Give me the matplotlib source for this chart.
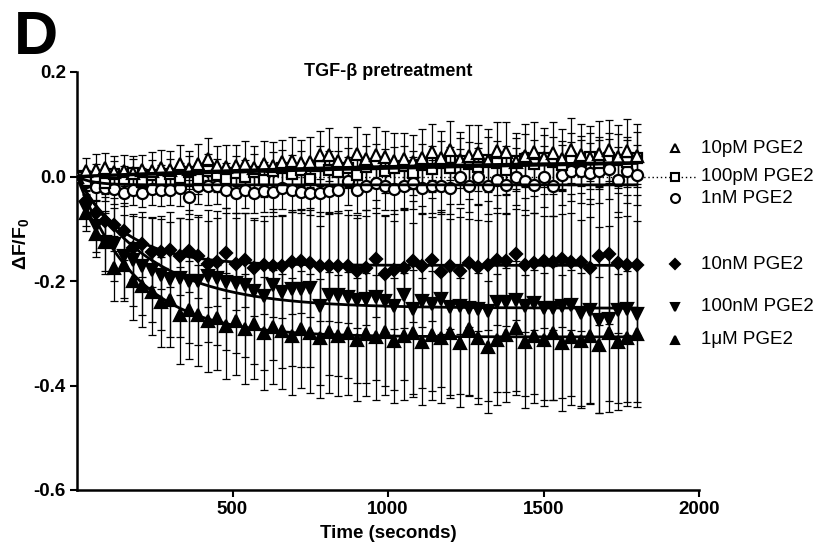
import numpy as np
import matplotlib
matplotlib.use("Agg")
import matplotlib.pyplot as plt

plt.rcParams["font.family"] = ["Liberation Sans", "DejaVu Sans"]
plt.rcParams["mathtext.fontset"] = "custom"
plt.rcParams["mathtext.rm"] = "Liberation Sans"
plt.rcParams["mathtext.bf"] = "Liberation Sans:bold"

# ── data ──────────────────────────────────────────────────────────────────────
time_s = np.arange(0, 1801, 30)

pge_10pM = [0.000, 0.010, 0.013, 0.017, 0.008, 0.011, 0.006, 0.012, 0.010, 0.017,
            0.012, 0.023, 0.015, 0.023, 0.033, 0.021, 0.018, 0.021, 0.023, 0.016,
            0.023, 0.020, 0.027, 0.030, 0.025, 0.028, 0.042, 0.042, 0.030, 0.027,
            0.044, 0.034, 0.042, 0.038, 0.030, 0.033, 0.028, 0.035, 0.047, 0.036,
            0.050, 0.032, 0.040, 0.045, 0.030, 0.048, 0.047, 0.028, 0.040, 0.046,
            0.036, 0.045, 0.033, 0.050, 0.042, 0.036, 0.044, 0.050, 0.038, 0.048,
            0.040]
pge_100pM = [0.000, -0.008, 0.000, -0.012, 0.004, -0.004, 0.006, -0.010, 0.002, -0.006,
             0.004, -0.002, 0.008, -0.004, 0.010, 0.002, -0.004, 0.006, 0.000, 0.008,
             -0.006, 0.010, 0.016, 0.004, 0.012, -0.004, 0.020, 0.012, 0.008, 0.016,
             0.002, 0.018, 0.024, 0.010, 0.016, 0.020, 0.006, 0.022, 0.014, 0.026,
             0.016, 0.030, 0.024, 0.018, 0.032, 0.026, 0.012, 0.030, 0.034, 0.024,
             0.036, 0.028, 0.022, 0.034, 0.030, 0.038, 0.026, 0.036, 0.032, 0.028,
             0.036]
pge_1nM = [0.000, -0.011, -0.020, -0.022, -0.024, -0.031, -0.025, -0.031, -0.024, -0.025,
           -0.025, -0.022, -0.039, -0.019, -0.019, -0.019, -0.025, -0.031, -0.025, -0.031,
           -0.028, -0.030, -0.022, -0.026, -0.030, -0.031, -0.031, -0.028, -0.026, -0.009,
           -0.025, -0.019, -0.013, -0.019, -0.024, -0.019, -0.013, -0.022, -0.019, -0.019,
           -0.022, 0.000, -0.018, 0.000, -0.019, -0.006, -0.016, 0.000, -0.009, -0.016,
           0.000, -0.019, 0.003, 0.010, 0.010, 0.006, 0.010, 0.014, -0.006, 0.010,
           0.003]
pge_10nM = [0.000, -0.046, -0.070, -0.085, -0.092, -0.105, -0.136, -0.130, -0.145, -0.145,
            -0.140, -0.153, -0.143, -0.153, -0.168, -0.163, -0.146, -0.168, -0.159, -0.175,
            -0.170, -0.172, -0.172, -0.164, -0.162, -0.166, -0.172, -0.172, -0.172, -0.172,
            -0.181, -0.175, -0.157, -0.186, -0.178, -0.175, -0.162, -0.172, -0.159, -0.183,
            -0.172, -0.181, -0.166, -0.174, -0.170, -0.160, -0.161, -0.149, -0.170, -0.166,
            -0.162, -0.164, -0.158, -0.164, -0.164, -0.176, -0.152, -0.149, -0.166, -0.170,
            -0.170]
pge_100nM = [0.000, -0.060, -0.095, -0.126, -0.130, -0.153, -0.160, -0.172, -0.178, -0.188,
             -0.197, -0.194, -0.200, -0.200, -0.191, -0.194, -0.201, -0.203, -0.207, -0.219,
             -0.228, -0.207, -0.221, -0.215, -0.215, -0.213, -0.247, -0.226, -0.226, -0.230,
             -0.237, -0.235, -0.230, -0.238, -0.247, -0.226, -0.253, -0.238, -0.244, -0.235,
             -0.250, -0.247, -0.251, -0.253, -0.257, -0.241, -0.241, -0.236, -0.247, -0.243,
             -0.251, -0.251, -0.247, -0.245, -0.261, -0.256, -0.274, -0.273, -0.256, -0.253,
             -0.264]
pge_1uM = [0.000, -0.070, -0.110, -0.125, -0.176, -0.170, -0.200, -0.210, -0.222, -0.240,
           -0.236, -0.266, -0.256, -0.266, -0.276, -0.270, -0.286, -0.276, -0.292, -0.282,
           -0.300, -0.288, -0.296, -0.306, -0.292, -0.300, -0.310, -0.298, -0.305, -0.300,
           -0.312, -0.302, -0.308, -0.298, -0.314, -0.306, -0.300, -0.316, -0.304, -0.310,
           -0.300, -0.318, -0.292, -0.310, -0.326, -0.312, -0.304, -0.290, -0.316, -0.306,
           -0.312, -0.300, -0.318, -0.308, -0.314, -0.306, -0.322, -0.300, -0.316, -0.310,
           -0.302]

# SEM bars
err_10pM = [0.000, 0.025, 0.030, 0.028, 0.032, 0.030, 0.034, 0.030, 0.036, 0.034,
            0.036, 0.038, 0.034, 0.040, 0.040, 0.038, 0.042, 0.040, 0.044, 0.042,
            0.044, 0.046, 0.042, 0.046, 0.044, 0.048, 0.046, 0.050, 0.046, 0.048,
            0.050, 0.048, 0.052, 0.050, 0.054, 0.050, 0.052, 0.056, 0.054, 0.052,
            0.056, 0.054, 0.058, 0.054, 0.060, 0.056, 0.058, 0.056, 0.060, 0.058,
            0.056, 0.060, 0.058, 0.062, 0.058, 0.060, 0.062, 0.058, 0.060, 0.062,
            0.060]
err_100pM = [0.000, 0.020, 0.024, 0.022, 0.026, 0.024, 0.028, 0.026, 0.030, 0.028,
             0.030, 0.028, 0.032, 0.030, 0.034, 0.032, 0.030, 0.034, 0.032, 0.036,
             0.034, 0.036, 0.034, 0.038, 0.036, 0.034, 0.038, 0.036, 0.040, 0.038,
             0.036, 0.040, 0.038, 0.042, 0.040, 0.038, 0.042, 0.040, 0.044, 0.042,
             0.040, 0.044, 0.042, 0.046, 0.044, 0.042, 0.046, 0.044, 0.048, 0.046,
             0.044, 0.048, 0.046, 0.050, 0.048, 0.046, 0.050, 0.048, 0.050, 0.048,
             0.050]
err_1nM = [0.000, 0.022, 0.026, 0.024, 0.028, 0.026, 0.030, 0.028, 0.030, 0.032,
           0.030, 0.034, 0.032, 0.034, 0.036, 0.034, 0.036, 0.038, 0.036, 0.038,
           0.040, 0.038, 0.040, 0.042, 0.040, 0.042, 0.044, 0.042, 0.044, 0.046,
           0.044, 0.046, 0.048, 0.046, 0.048, 0.046, 0.050, 0.048, 0.050, 0.052,
           0.050, 0.052, 0.050, 0.054, 0.052, 0.054, 0.056, 0.054, 0.056, 0.054,
           0.058, 0.056, 0.058, 0.056, 0.060, 0.058, 0.060, 0.058, 0.062, 0.060,
           0.058]
err_10nM = [0.000, 0.030, 0.040, 0.045, 0.050, 0.055, 0.060, 0.062, 0.066, 0.070,
            0.072, 0.074, 0.078, 0.080, 0.082, 0.084, 0.086, 0.088, 0.090, 0.092,
            0.094, 0.096, 0.098, 0.100, 0.100, 0.102, 0.104, 0.104, 0.106, 0.108,
            0.108, 0.110, 0.112, 0.112, 0.114, 0.114, 0.116, 0.116, 0.118, 0.118,
            0.120, 0.120, 0.122, 0.122, 0.124, 0.124, 0.126, 0.126, 0.128, 0.128,
            0.128, 0.130, 0.130, 0.130, 0.132, 0.132, 0.132, 0.134, 0.134, 0.134,
            0.134]
err_100nM = [0.000, 0.035, 0.050, 0.060, 0.070, 0.080, 0.088, 0.094, 0.100, 0.106,
             0.110, 0.114, 0.118, 0.122, 0.126, 0.128, 0.132, 0.134, 0.138, 0.140,
             0.142, 0.144, 0.146, 0.148, 0.150, 0.152, 0.152, 0.154, 0.156, 0.156,
             0.158, 0.160, 0.160, 0.162, 0.162, 0.164, 0.164, 0.166, 0.166, 0.168,
             0.168, 0.170, 0.170, 0.170, 0.172, 0.172, 0.172, 0.174, 0.174, 0.174,
             0.176, 0.176, 0.176, 0.176, 0.178, 0.178, 0.178, 0.178, 0.178, 0.178,
             0.178]
err_1uM = [0.000, 0.035, 0.045, 0.055, 0.062, 0.068, 0.074, 0.078, 0.082, 0.086,
           0.090, 0.092, 0.094, 0.096, 0.098, 0.100, 0.102, 0.104, 0.106, 0.106,
           0.108, 0.110, 0.110, 0.112, 0.112, 0.114, 0.114, 0.116, 0.116, 0.118,
           0.118, 0.118, 0.120, 0.120, 0.120, 0.122, 0.122, 0.122, 0.124, 0.124,
           0.124, 0.124, 0.126, 0.126, 0.126, 0.126, 0.128, 0.128, 0.128, 0.128,
           0.128, 0.128, 0.130, 0.130, 0.130, 0.130, 0.130, 0.130, 0.130, 0.130,
           0.130]

# one-phase exponential fit parameters (plateau, rate k in 1/s)
fit_10pM = (0.035, 0.0008)
fit_100pM = (0.060, 0.0003)
fit_1nM = (-0.016, 0.020)
fit_10nM = (-0.170, 0.0065)
fit_100nM = (-0.252, 0.0042)
fit_1uM = (-0.307, 0.0052)

labels = ["10pM PGE2", "100pM PGE2", "1nM PGE2", "10nM PGE2", "100nM PGE2", "1\u03bcM PGE2"]
legend_y = [0.054, 0.0, -0.042, -0.168, -0.249, -0.312]

series = [
    (pge_10pM, err_10pM, fit_10pM, "^", "white", 8),
    (pge_100pM, err_100pM, fit_100pM, "s", "white", 7.5),
    (pge_1nM, err_1nM, fit_1nM, "o", "white", 8),
    (pge_10nM, err_10nM, fit_10nM, "D", "black", 6),
    (pge_100nM, err_100nM, fit_100nM, "v", "black", 8),
    (pge_1uM, err_1uM, fit_1uM, "^", "black", 8),
]

fig = plt.figure(figsize=(8.32, 5.5), dpi=100)
ax = fig.add_axes([77 / 832, 60 / 550, 622 / 832, 418 / 550])

# dotted baseline (also runs through the 100pM legend entry)
ax.plot([0, 1995], [0, 0], ls=(0, (1, 2)), color="black", lw=1.0, clip_on=False, zorder=1)

t_fit = np.linspace(0, 1800, 400)
for (vals, err, (plat, k), mk, fc, ms) in reversed(series):
    ax.errorbar(time_s, vals, yerr=err, fmt="none", ecolor="black", elinewidth=0.9,
                capsize=3.2, capthick=0.9, zorder=2)
    ax.plot(time_s, vals, ls="none", marker=mk, ms=ms, mfc=fc, mec="black",
            mew=1.6, zorder=3)
    ax.plot(t_fit, plat * (1 - np.exp(-k * t_fit)), color="black", lw=2.0, zorder=4)

# legend drawn beside the data
for (vals, err, fit, mk, fc, ms), lab, ly in zip(series, labels, legend_y):
    ax.plot([1923], [ly], ls="none", marker=mk, ms=ms * 0.8, mfc=fc, mec="black",
            mew=1.5, clip_on=False, zorder=5)
    ax.text(2005, ly, lab, fontsize=13.5, va="center", ha="left")

ax.set_xlim(0, 2000)
ax.set_ylim(-0.6, 0.2)
ax.set_xticks([500, 1000, 1500, 2000])
ax.set_xticklabels(["500", "1000", "1500", "2000"], fontsize=13.5, fontweight="bold")
ax.set_yticks([-0.6, -0.4, -0.2, 0.0, 0.2])
ax.set_yticklabels(["-0.6", "-0.4", "-0.2", "0.0", "0.2"], fontsize=13.5, fontweight="bold")
ax.tick_params(direction="out", length=5, width=1.5, pad=3)
for side in ["top", "right"]:
    ax.spines[side].set_visible(False)
for side in ["left", "bottom"]:
    ax.spines[side].set_linewidth(1.8)

ax.set_xlabel("Time (seconds)", fontsize=13.5, fontweight="bold", labelpad=5)
ax.set_ylabel(r"$\mathbf{\Delta F/F_0}$", fontsize=14)
ax.yaxis.set_label_coords(-46 / 622, 0.59)
ax.text(0.5, 1.0, "TGF-\u03b2 pretreatment", transform=ax.transAxes, ha="center",
        va="center", fontsize=13, fontweight="bold")
fig.text(14 / 832, 1 - 10 / 550, "D", fontsize=44, fontweight="bold", ha="left", va="top")

fig.savefig("out.png", dpi=100)
